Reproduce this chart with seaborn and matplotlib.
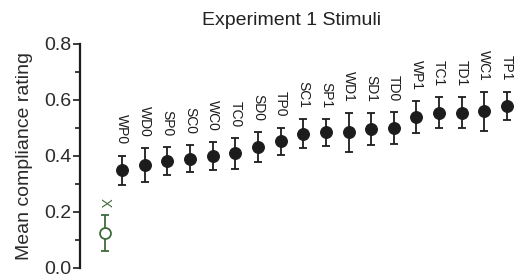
import numpy as np
import pandas as pd
import seaborn as sns
import matplotlib
matplotlib.use("Agg")
import matplotlib.pyplot as plt

# values
control_label = "X"
control_mean = 0.124
control_err = 0.064

stimuli = ["WP0", "WD0", "SP0", "SC0", "WC0", "TC0", "SD0", "TP0", "SC1",
           "SP1", "WD1", "SD1", "TD0", "WP1", "TC1", "TD1", "WC1", "TP1"]
means = [0.349, 0.369, 0.382, 0.391, 0.399, 0.409, 0.432, 0.453, 0.480,
         0.484, 0.484, 0.496, 0.500, 0.539, 0.555, 0.555, 0.560, 0.579]
errs = [0.052, 0.061, 0.050, 0.048, 0.050, 0.055, 0.055, 0.048, 0.052,
        0.048, 0.070, 0.058, 0.056, 0.057, 0.054, 0.055, 0.070, 0.051]

yticks = [0.0, 0.2, 0.4, 0.6, 0.8]

sns.set_theme(style="ticks")
plt.rcParams["font.family"] = ["Liberation Sans", "DejaVu Sans"]

dark = "#1c1c1c"
green = "#3f6b3c"

df = pd.DataFrame({"stim": stimuli, "mean": means, "err": errs})
df["pos"] = np.arange(1, len(df) + 1)
ctrl_pos = 0.25

fig = plt.figure(figsize=(5.15, 2.79), dpi=100)
ax = fig.add_axes([80 / 515, 1 - 268 / 279, 435 / 515, 224 / 279])

# error bars first, markers on top
ax.errorbar(df["pos"], df["mean"], yerr=df["err"], fmt="none", ecolor=dark,
            elinewidth=1.3, capsize=2.7, capthick=1.3, zorder=2)
sns.scatterplot(data=df, x="pos", y="mean", color=dark, s=72, edgecolor=dark,
                linewidth=0.8, zorder=3, ax=ax, legend=False)

ax.errorbar([ctrl_pos], [control_mean], yerr=[control_err], fmt="none", ecolor=green,
            elinewidth=1.3, capsize=2.7, capthick=1.3, zorder=2)
ax.scatter([ctrl_pos], [control_mean], s=62, facecolor="white", edgecolor=green,
           linewidth=1.3, zorder=3)

for p, m, e, lab in zip(df["pos"], df["mean"], df["err"], df["stim"]):
    ax.annotate(lab, (p, m + e), xytext=(0, 8), textcoords="offset points",
                rotation=-90, ha="center", va="bottom", fontsize=10, color=dark)
ax.annotate(control_label, (ctrl_pos, control_mean + control_err), xytext=(0, 6),
            textcoords="offset points", rotation=-90, ha="center", va="bottom",
            fontsize=10, color=green)

ax.set_xlim(-0.854, 18.35)
ax.set_ylim(0, 0.8)
ax.set_yticks(yticks)
ax.set_yticklabels([f"{t:.1f}" for t in yticks])
ax.set_yticks(np.arange(0.1, 0.8, 0.2), minor=True)
ax.tick_params(axis="y", which="major", length=5, width=1.2, labelsize=14, pad=1,
               color=dark, labelcolor="#2a2a2a")
ax.tick_params(axis="y", which="minor", length=3.5, width=1.2, color=dark)
ax.set_xticks([])
ax.set_xlabel("")
ax.set_ylabel("Mean compliance rating", fontsize=14, labelpad=8, color="#2a2a2a")
ax.set_title("Experiment 1 Stimuli", fontsize=14, x=0.487, pad=14, color="#222222")

sns.despine(ax=ax, bottom=True)
ax.spines["left"].set_linewidth(1.6)
ax.spines["left"].set_color(dark)
ax.patch.set_alpha(0)

fig.savefig("out.png", dpi=100)
